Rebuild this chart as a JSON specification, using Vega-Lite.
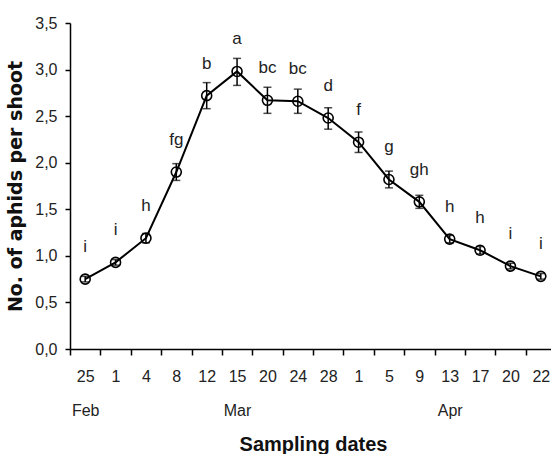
{
  "$schema": "https://vega.github.io/schema/vega-lite/v6.json",
  "autosize": {"type": "none"},
  "padding": {"left": 70, "top": 23, "right": 0, "bottom": 105},
  "width": 486,
  "height": 326,
  "background": "white",
  "config": {
    "view": {"stroke": null},
    "font": "Liberation Sans Narrow, Liberation Sans, sans-serif"
  },
  "data": {
    "values": [
      {"date": "Feb 25", "mean": 0.75, "lo": 0.72, "hi": 0.78, "group": "i"},
      {"date": "Mar 1", "mean": 0.93, "lo": 0.90, "hi": 0.96, "group": "i"},
      {"date": "Mar 4", "mean": 1.19, "lo": 1.14, "hi": 1.24, "group": "h"},
      {"date": "Mar 8", "mean": 1.90, "lo": 1.81, "hi": 1.99, "group": "fg"},
      {"date": "Mar 12", "mean": 2.72, "lo": 2.58, "hi": 2.86, "group": "b"},
      {"date": "Mar 15", "mean": 2.98, "lo": 2.83, "hi": 3.12, "group": "a"},
      {"date": "Mar 20", "mean": 2.67, "lo": 2.53, "hi": 2.81, "group": "bc"},
      {"date": "Mar 24", "mean": 2.66, "lo": 2.53, "hi": 2.79, "group": "bc"},
      {"date": "Mar 28", "mean": 2.48, "lo": 2.36, "hi": 2.59, "group": "d"},
      {"date": "Apr 1", "mean": 2.22, "lo": 2.11, "hi": 2.33, "group": "f"},
      {"date": "Apr 5", "mean": 1.82, "lo": 1.73, "hi": 1.91, "group": "g"},
      {"date": "Apr 9", "mean": 1.58, "lo": 1.51, "hi": 1.65, "group": "gh"},
      {"date": "Apr 13", "mean": 1.18, "lo": 1.14, "hi": 1.22, "group": "h"},
      {"date": "Apr 17", "mean": 1.06, "lo": 1.02, "hi": 1.10, "group": "h"},
      {"date": "Apr 20", "mean": 0.89, "lo": 0.86, "hi": 0.92, "group": "i"},
      {"date": "Apr 22", "mean": 0.78, "lo": 0.75, "hi": 0.81, "group": "i"}
    ]
  },
  "encoding": {
    "x": {
      "field": "date",
      "type": "ordinal",
      "sort": null,
      "scale": {"type": "point", "padding": 0.5},
      "axis": {
        "title": "Sampling dates",
        "titleFontSize": 20,
        "titleFontWeight": "bold",
        "titleColor": "#111",
        "titlePadding": 16,
        "labelAngle": 0,
        "labelFontSize": 16,
        "labelColor": "#222",
        "labelLineHeight": 34,
        "labelPadding": 13,
        "labelExpr": "datum.label == 'Feb 25' ? ['25', 'Feb'] : datum.label == 'Mar 15' ? ['15', 'Mar'] : datum.label == 'Apr 13' ? ['13', 'Apr'] : split(datum.label, ' ')[1]",
        "tickOffset": -15.1875,
        "labelOffset": 15.1875,
        "tickSize": 6,
        "tickColor": "black",
        "tickWidth": 1.5,
        "domainColor": "black",
        "domainWidth": 1.5,
        "grid": false
      }
    },
    "y": {
      "field": "mean",
      "type": "quantitative",
      "scale": {"domain": [0, 3.5], "nice": false},
      "axis": {
        "title": "No. of aphids  per  shoot",
        "titleFont": "DejaVu Sans",
        "titleFontSize": 19,
        "titleFontWeight": "bold",
        "titleColor": "#111",
        "titlePadding": 9,
        "values": [0, 0.5, 1, 1.5, 2, 2.5, 3, 3.5],
        "labelExpr": "replace(format(datum.value, '.1f'), '.', ',')",
        "labelFontSize": 16,
        "labelColor": "#222",
        "labelPadding": 8,
        "tickSize": 5,
        "tickColor": "black",
        "tickWidth": 1.5,
        "domainColor": "black",
        "domainWidth": 1.5,
        "grid": false
      }
    }
  },
  "layer": [
    {"mark": {"type": "line", "color": "black", "strokeWidth": 2}},
    {
      "mark": {"type": "rule", "color": "black", "strokeWidth": 1.5},
      "encoding": {"y": {"field": "lo", "type": "quantitative"}, "y2": {"field": "hi"}}
    },
    {
      "mark": {"type": "tick", "color": "black", "size": 8, "thickness": 1.5, "orient": "horizontal"},
      "encoding": {"y": {"field": "lo", "type": "quantitative"}}
    },
    {
      "mark": {"type": "tick", "color": "black", "size": 8, "thickness": 1.5, "orient": "horizontal"},
      "encoding": {"y": {"field": "hi", "type": "quantitative"}}
    },
    {
      "mark": {"type": "point", "filled": false, "color": "black", "strokeWidth": 1.6, "size": 100, "opacity": 1}
    },
    {
      "mark": {"type": "text", "fontSize": 17, "color": "#222", "baseline": "middle", "dy": -32},
      "encoding": {"text": {"field": "group"}}
    }
  ]
}
